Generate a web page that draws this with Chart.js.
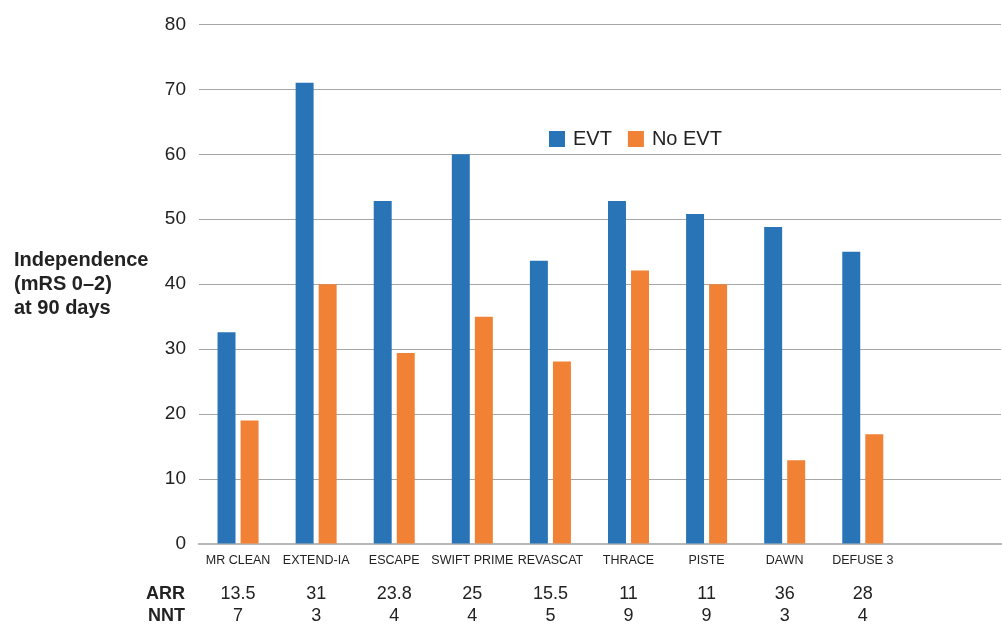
<!DOCTYPE html>
<html>
<head>
<meta charset="utf-8">
<script src="https://cdn.jsdelivr.net/npm/chart.js@4"></script>
<style>
  html, body { margin: 0; padding: 0; background: #fff; }
  #wrap { width: 1002px; height: 624px; }
</style>
</head>
<body>
<div id="wrap"><canvas id="mycanvas" width="1002" height="624"></canvas></div>
<script>
var trials = ["MR CLEAN", "EXTEND-IA", "ESCAPE", "SWIFT PRIME", "REVASCAT", "THRACE", "PISTE", "DAWN", "DEFUSE 3"];
var evt = [32.6, 71, 52.8, 60, 43.6, 52.8, 50.8, 48.8, 45];
var noEvt = [19, 40, 29.4, 35, 28.1, 42.1, 40, 12.9, 16.9];
var arr = ["13.5", "31", "23.8", "25", "15.5", "11", "11", "36", "28"];
var nnt = ["7", "3", "4", "4", "5", "9", "9", "3", "4"];
var yTitle = ["Independence", "(mRS 0\u20132)", "at 90 days"];

var FONT = "'Liberation Sans', Arial, Helvetica, sans-serif";
var BLUE = "rgb(40,116,183)";
var ORANGE = "rgb(241,129,53)";

function points(vals) {
	var out = [];
	for (var i in vals) {
		out.push({ x: Number(i), y: vals[i] });
	}
	return out;
}

// legend, axis title and the ARR / NNT rows
var extras = {
	id: "extras",
	afterDraw: function(chart) {
		var ctx = chart.ctx;
		var xs = chart.scales.x;
		ctx.save();
		ctx.fillStyle = "#222";
		ctx.textBaseline = "middle";

		// y title, horizontal
		ctx.font = "bold 20px " + FONT;
		ctx.textAlign = "left";
		for (var i = 0; i < yTitle.length; i++) {
			ctx.fillText(yTitle[i], 14, 260 + i * 24);
		}

		// ARR / NNT rows
		ctx.font = "bold 18px " + FONT;
		ctx.textAlign = "right";
		ctx.fillText("ARR", 185, 594);
		ctx.fillText("NNT", 185, 616);
		ctx.font = "18px " + FONT;
		ctx.textAlign = "center";
		for (var j = 0; j < trials.length; j++) {
			var px = xs.getPixelForValue(j);
			ctx.fillText(arr[j], px, 594);
			ctx.fillText(nnt[j], px, 616);
		}

		// legend
		ctx.font = "20px " + FONT;
		ctx.textAlign = "left";
		var lx = 549;
		chart.data.datasets.forEach(function(ds) {
			ctx.fillStyle = ds.backgroundColor;
			ctx.fillRect(lx, 131, 16, 16);
			ctx.fillStyle = "#222";
			ctx.fillText(ds.label, lx + 24, 139.5);
			lx += 24 + ctx.measureText(ds.label).width + 16;
		});
		ctx.restore();
	}
};

var chartdata = {
	datasets: [
		{
			label: "EVT",
			backgroundColor: BLUE,
			data: points(evt)
		},
		{
			label: "No EVT",
			backgroundColor: ORANGE,
			data: points(noEvt)
		}
	]
};

var ctx = document.getElementById("mycanvas");

var barGraph = new Chart(ctx, {
	type: "bar",
	data: chartdata,
	plugins: [extras],
	options: {
		responsive: false,
		animation: false,
		layout: { padding: { top: 23, right: 1, left: 0, bottom: 0 } },
		categoryPercentage: 0.59,
		barPercentage: 0.78,
		plugins: {
			legend: { display: false },
			tooltip: { enabled: false }
		},
		scales: {
			x: {
				type: "linear",
				offset: false,
				min: -0.5,
				max: 9.77,
				afterBuildTicks: function(scale) {
					scale.ticks = trials.map(function(t, i) { return { value: i }; });
				},
				afterFit: function(scale) { scale.height = 80; },
				grid: { display: false, drawTicks: false, offset: false },
				border: { display: true, color: "#b8b8b8", width: 2 },
				ticks: {
					autoSkip: false,
					maxRotation: 0,
					padding: 9,
					color: "#222",
					font: { family: FONT, size: 12.5 },
					callback: function(v) { return trials[v]; }
				}
			},
			y: {
				min: 0,
				max: 80,
				afterFit: function(scale) { scale.width = 199; },
				grid: { color: "#a6a6a6", lineWidth: 1, drawTicks: false },
				border: { display: false },
				ticks: {
					stepSize: 10,
					padding: 13,
					color: "#222",
					font: { family: FONT, size: 19 }
				}
			}
		}
	}
});
</script>
</body>
</html>
